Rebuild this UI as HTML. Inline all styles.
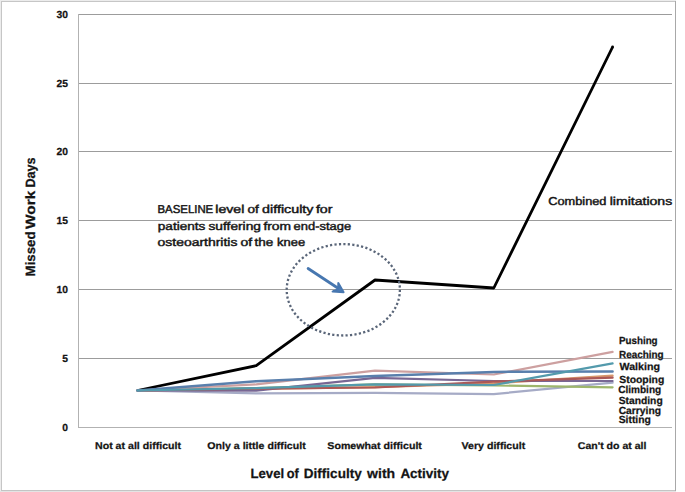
<!DOCTYPE html>
<html><head><meta charset="utf-8"><style>
html,body{margin:0;padding:0;background:#fff;width:685px;height:492px;overflow:hidden}
svg{display:block}
text{text-rendering:geometricPrecision;font-family:"Liberation Sans",sans-serif;fill:#141414;stroke:#141414;stroke-width:0.45px}
.b text,text.b{font-weight:bold;stroke-width:0.25px}
</style></head><body>
<svg width="685" height="492" viewBox="0 0 685 492">
<rect x="0" y="0" width="685" height="492" fill="#fff"/>
<!-- outer border -->
<g shape-rendering="crispEdges">
<rect x="0" y="0" width="676" height="1" fill="#ececec"/>
<rect x="0" y="0" width="1" height="492" fill="#ececec"/>
<rect x="0" y="491" width="676" height="1" fill="#e4e4e4"/>
<rect x="1" y="1" width="675" height="1" fill="#c6c6c6"/>
<rect x="1" y="1" width="1" height="490" fill="#c6c6c6"/>
<rect x="1" y="490" width="675" height="1" fill="#c4c4c4"/>
<rect x="675" y="1" width="1" height="490" fill="#a8a8a8"/>
</g>
<g shape-rendering="crispEdges" stroke="#9c9c9c" stroke-width="1">
<line x1="78" y1="14.5" x2="672" y2="14.5"/>
<line x1="78" y1="83.5" x2="672" y2="83.5"/>
<line x1="78" y1="151.5" x2="672" y2="151.5"/>
<line x1="78" y1="220.5" x2="672" y2="220.5"/>
<line x1="78" y1="289.5" x2="672" y2="289.5"/>
<line x1="78" y1="358.5" x2="672" y2="358.5"/>
</g>
<g shape-rendering="crispEdges" stroke="#b2b2b2" stroke-width="1">
<line x1="78.5" y1="14" x2="78.5" y2="428"/>
<line x1="78" y1="427.5" x2="672" y2="427.5"/>
</g>
<!-- y tick labels -->
<g class="b" font-size="10.3" text-anchor="end" transform="translate(0.5,0.4)">
<text x="67.5" y="17.6">30</text>
<text x="67.5" y="86.6">25</text>
<text x="67.5" y="154.6">20</text>
<text x="67.5" y="223.6">15</text>
<text x="67.5" y="292.6">10</text>
<text x="67.5" y="361.4">5</text>
<text x="67.5" y="430.4">0</text>
</g>
<!-- category labels -->
<g class="b" font-size="9.8" text-anchor="middle">
<text x="138" y="448.8" textLength="86" lengthAdjust="spacingAndGlyphs">Not at all difficult</text>
<text x="256.5" y="448.8" textLength="98.4" lengthAdjust="spacingAndGlyphs">Only a little difficult</text>
<text x="374.6" y="448.8" textLength="94.6" lengthAdjust="spacingAndGlyphs">Somewhat difficult</text>
<text x="493.4" y="448.8" textLength="63.6" lengthAdjust="spacingAndGlyphs">Very difficult</text>
<text x="612.1" y="448.8" textLength="68.6" lengthAdjust="spacingAndGlyphs">Can't do at all</text>
</g>
<!-- axis titles -->
<g class="b" font-size="13.3">
<text x="250.5" y="478.4" textLength="33.7" lengthAdjust="spacingAndGlyphs">Level</text>
<text x="286.7" y="478.4" textLength="12.1" lengthAdjust="spacingAndGlyphs">of</text>
<text x="303.8" y="478.4" textLength="57.9" lengthAdjust="spacingAndGlyphs">Difficulty</text>
<text x="367.1" y="478.4" textLength="28.1" lengthAdjust="spacingAndGlyphs">with</text>
<text x="400.4" y="478.4" textLength="48.7" lengthAdjust="spacingAndGlyphs">Activity</text>
</g>
<g class="b" font-size="13.5" transform="translate(34.8,0) rotate(-90)">
<text x="-276.4" y="0" textLength="44.9" lengthAdjust="spacingAndGlyphs">Missed</text>
<text x="-229.0" y="0" textLength="38.3" lengthAdjust="spacingAndGlyphs">Work</text>
<text x="-187.6" y="0" textLength="30.0" lengthAdjust="spacingAndGlyphs">Days</text>
</g>
<!-- series -->
<g fill="none" stroke-width="2.2" stroke-linejoin="round" stroke-linecap="round">
<polyline stroke="#000" stroke-width="2.8" stroke-linecap="butt" points="137.4,390.5 256.2,365.7 375,280 493.8,288 612.6,47"/>
<circle cx="612.6" cy="47" r="1.4" fill="#000" stroke="none"/>
<polyline stroke="#a6abc6" points="137.4,390.5 256.2,393.4 375,392.9 493.8,394.1 612.6,382.6"/>
<polyline stroke="#9eb66c" points="137.4,390.5 256.2,388 375,384.4 493.8,385.5 612.6,387.3"/>
<polyline stroke="#d7976d" points="137.4,390.5 256.2,389 375,387.2 493.8,383.4 612.6,375.6"/>
<polyline stroke="#786794" points="137.4,390.5 256.2,390.6 375,377.9 493.8,381 612.6,381"/>
<polyline stroke="#ac5856" points="137.4,390.5 256.2,388.6 375,387.5 493.8,381.7 612.6,377.6"/>
<polyline stroke="#cda0a0" points="137.4,390.5 256.2,384.4 375,370.6 493.8,374.5 612.6,351.9"/>
<polyline stroke="#597fac" stroke-width="2.5" points="137.4,390.5 256.2,381.2 375,375.9 493.8,371.9 612.6,371.4"/>
<polyline stroke="#539aac" points="137.4,390.5 256.2,388.2 375,384.4 493.8,385 612.6,363.4"/>
</g>
<!-- series labels -->
<g class="b" font-size="10.3" transform="translate(0,0.6)">
<text x="619" y="343.7" textLength="38.6" lengthAdjust="spacingAndGlyphs">Pushing</text>
<text x="619" y="357.8" textLength="44.6" lengthAdjust="spacingAndGlyphs">Reaching</text>
<text x="619.5" y="369.6" textLength="40.5" lengthAdjust="spacingAndGlyphs">Walking</text>
<text x="619.3" y="382.4" textLength="45" lengthAdjust="spacingAndGlyphs">Stooping</text>
<text x="618.2" y="392.8" textLength="43" lengthAdjust="spacingAndGlyphs">Climbing</text>
<text x="618.7" y="403.4" textLength="44" lengthAdjust="spacingAndGlyphs">Standing</text>
<text x="618.7" y="413.9" textLength="42.3" lengthAdjust="spacingAndGlyphs">Carrying</text>
<text x="618.7" y="422.7" textLength="32.2" lengthAdjust="spacingAndGlyphs">Sitting</text>
</g>
<!-- annotations -->
<g font-size="11.4">
<text x="157.5" y="212.8" textLength="55.7" lengthAdjust="spacingAndGlyphs">BASELINE</text>
<text x="215.3" y="212.8" textLength="29.0" lengthAdjust="spacingAndGlyphs">level</text>
<text x="247.5" y="212.8" textLength="11.3" lengthAdjust="spacingAndGlyphs">of</text>
<text x="262.1" y="212.8" textLength="51.4" lengthAdjust="spacingAndGlyphs">difficulty</text>
<text x="315.9" y="212.8" textLength="16.6" lengthAdjust="spacingAndGlyphs">for</text>
<text x="157.8" y="229.9" textLength="47.6" lengthAdjust="spacingAndGlyphs">patients</text>
<text x="208.5" y="229.9" textLength="52.4" lengthAdjust="spacingAndGlyphs">suffering</text>
<text x="263.4" y="229.9" textLength="27.7" lengthAdjust="spacingAndGlyphs">from</text>
<text x="293.6" y="229.9" textLength="57.6" lengthAdjust="spacingAndGlyphs">end-stage</text>
<text x="157.6" y="246.3" textLength="79.8" lengthAdjust="spacingAndGlyphs">osteoarthritis</text>
<text x="240.5" y="246.3" textLength="11.6" lengthAdjust="spacingAndGlyphs">of</text>
<text x="254.5" y="246.3" textLength="18.8" lengthAdjust="spacingAndGlyphs">the</text>
<text x="277.0" y="246.3" textLength="28.1" lengthAdjust="spacingAndGlyphs">knee</text>
<text x="548.2" y="204.6" textLength="58.3" lengthAdjust="spacingAndGlyphs">Combined</text>
<text x="609.7" y="204.6" textLength="62.5" lengthAdjust="spacingAndGlyphs">limitations</text>
</g>
<ellipse cx="343.3" cy="289.8" rx="56.6" ry="45.7" fill="none" stroke="#5a6679" stroke-width="2.3" stroke-dasharray="2.2 2.27"/>
<g stroke="#4777b0" stroke-width="2.8" fill="none" stroke-linecap="round" stroke-linejoin="round">
<line x1="308.1" y1="268.5" x2="340" y2="289.5"/>
<polygon points="338.3,283 343.6,292.2 332.6,291.6 338.2,289.2" fill="#4a7bb6" stroke-width="2"/>
</g>
</svg>
</body></html>
